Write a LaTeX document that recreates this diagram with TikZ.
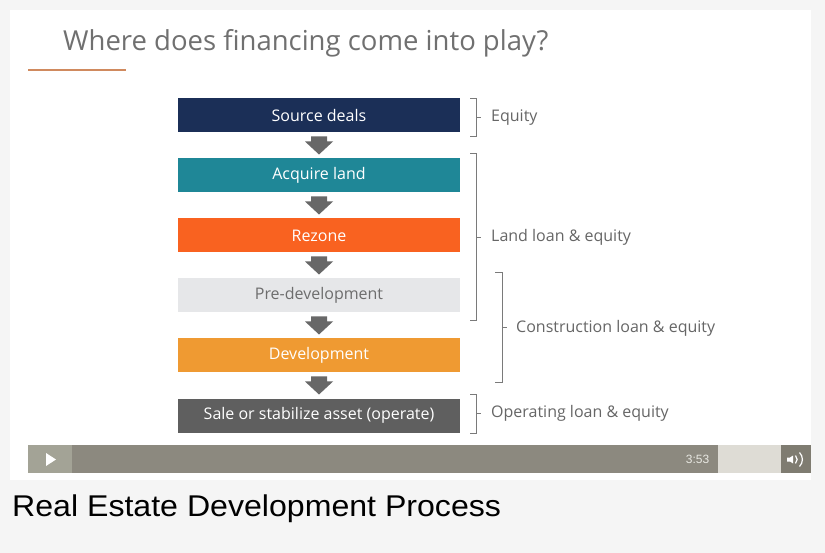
\documentclass[tikz,border=0pt]{standalone}
\usepackage{fontspec}
\setmainfont{Open Sans}
\newfontfamily\capfont[FakeStretch=1.07]{Liberation Sans}
\newfontfamily\timefont{Liberation Sans}
\usetikzlibrary{calc}
\definecolor{pagebg}{HTML}{F5F5F5}
\definecolor{navy}{HTML}{1B2F57}
\definecolor{teal}{HTML}{1F8797}
\definecolor{rezone}{HTML}{F96220}
\definecolor{pregray}{HTML}{E6E7E9}
\definecolor{pretext}{HTML}{6D6D6D}
\definecolor{devorange}{HTML}{EF9A32}
\definecolor{saledark}{HTML}{5F5F5F}
\definecolor{arrowgray}{HTML}{686868}
\definecolor{brackgray}{HTML}{7A7A7A}
\definecolor{labelgray}{HTML}{666666}
\definecolor{titlegray}{HTML}{707070}
\definecolor{rulecol}{HTML}{D08A5E}
\definecolor{playarea}{HTML}{A3A396}
\definecolor{barmain}{HTML}{8C897F}
\definecolor{barlight}{HTML}{DEDCD5}
\definecolor{volarea}{HTML}{7F7C71}
\definecolor{timetext}{HTML}{E8E8E2}
\tikzset{
  stepbox/.style={rectangle, minimum width=282pt, minimum height=34pt, inner sep=0pt,
    text=white, font=\fontsize{16}{19}\selectfont},
  fatarrow/.pic={
    \fill[arrowgray] (-8,-9) -- (8,-9) -- (8,-4) -- (14,-4) -- (0,9) -- (-14,-4) -- (-8,-4) -- cycle;
  },
  brack/.style={draw=brackgray, line width=1pt},
  brlabel/.style={anchor=west, text=labelgray, font=\fontsize{16}{19}\selectfont, inner sep=0pt}
}
\begin{document}
\begin{tikzpicture}[x=1pt,y=-1pt]
\fill[pagebg] (0,0) rectangle (825,553);
\useasboundingbox (0,0) rectangle (825,553);
\fill[white] (10,10) rectangle (811,480);

% title
\node[anchor=base west, inner sep=0pt, text=titlegray, font=\fontsize{27.5}{32}\selectfont] (title) at (63,51) {Where does financing come into play?};
\draw[rulecol, line width=1.5pt] (28,70) -- (126,70);

% boxes
\node[stepbox, fill=navy] (s1) at (319,115.5) {Source deals};
\node[stepbox, fill=teal] (s2) at (319,175.5) {Acquire land};
\node[stepbox, fill=rezone] (s3) at (319,235.5) {Rezone};
\node[stepbox, fill=pregray, text=pretext] (s4) at (319,295.5) {Pre-development};
\node[stepbox, fill=devorange] (s5) at (319,355.5) {Development};
\node[stepbox, fill=saledark] (s6) at (319,415.5) {Sale or stabilize asset (operate)};

% arrows
\pic at ($(s1.south)!0.5!(s2.north)$) {fatarrow};
\pic at ($(s2.south)!0.5!(s3.north)$) {fatarrow};
\pic at ($(s3.south)!0.5!(s4.north)$) {fatarrow};
\pic at ($(s4.south)!0.5!(s5.north)$) {fatarrow};
\pic at ($(s5.south)!0.5!(s6.north)$) {fatarrow};

% brackets
\draw[brack] (470,99) -- (476,99) -- (476,137) -- (470,137);
\draw[brack] (476,117.5) -- (481,117.5);
\node[brlabel] (l1) at (491,117.5) {Equity};

\draw[brack] (470,154) -- (476,154) -- (476,321) -- (470,321);
\draw[brack] (476,237.5) -- (481,237.5);
\node[brlabel] (l2) at (491,237.5) {Land loan \& equity};

\draw[brack] (495,273) -- (502,273) -- (502,383) -- (495,383);
\draw[brack] (502,328) -- (507,328);
\node[brlabel] (l3) at (516,328) {Construction loan \& equity};

\draw[brack] (470,394) -- (476,394) -- (476,433) -- (470,433);
\draw[brack] (476,413.5) -- (481,413.5);
\node[brlabel] (l4) at (491,413.5) {Operating loan \& equity};

% player bar
\fill[playarea] (28,445) rectangle (72,473);
\fill[barmain] (72,445) rectangle (718,473);
\fill[barlight] (718,445) rectangle (781,473);
\fill[volarea] (781,445) rectangle (811,473);
\fill[white] (46,453) -- (46,466) -- (56,459.5) -- cycle;
\node[text=timetext, font=\timefont\fontsize{12}{14}\selectfont, inner sep=0pt] (time) at (697.5,459.5) {3:53};
\fill[white] (787,457.5) -- (790,457.5) -- (793,455.5) -- (793,463.5) -- (790,461.5) -- (787,461.5) -- cycle;
\draw[white, line width=1.2pt] (795.5,455.5) arc[start angle=-45, end angle=45, radius=5.6];
\draw[white, line width=1.2pt] (799.5,452.5) arc[start angle=-45, end angle=45, radius=9.9];

% caption
\node[anchor=base west, inner sep=0pt, text=black, font=\capfont\fontsize{30}{34}\selectfont] (cap) at (12,516) {Real Estate Development Process};
\end{tikzpicture}
\end{document}
